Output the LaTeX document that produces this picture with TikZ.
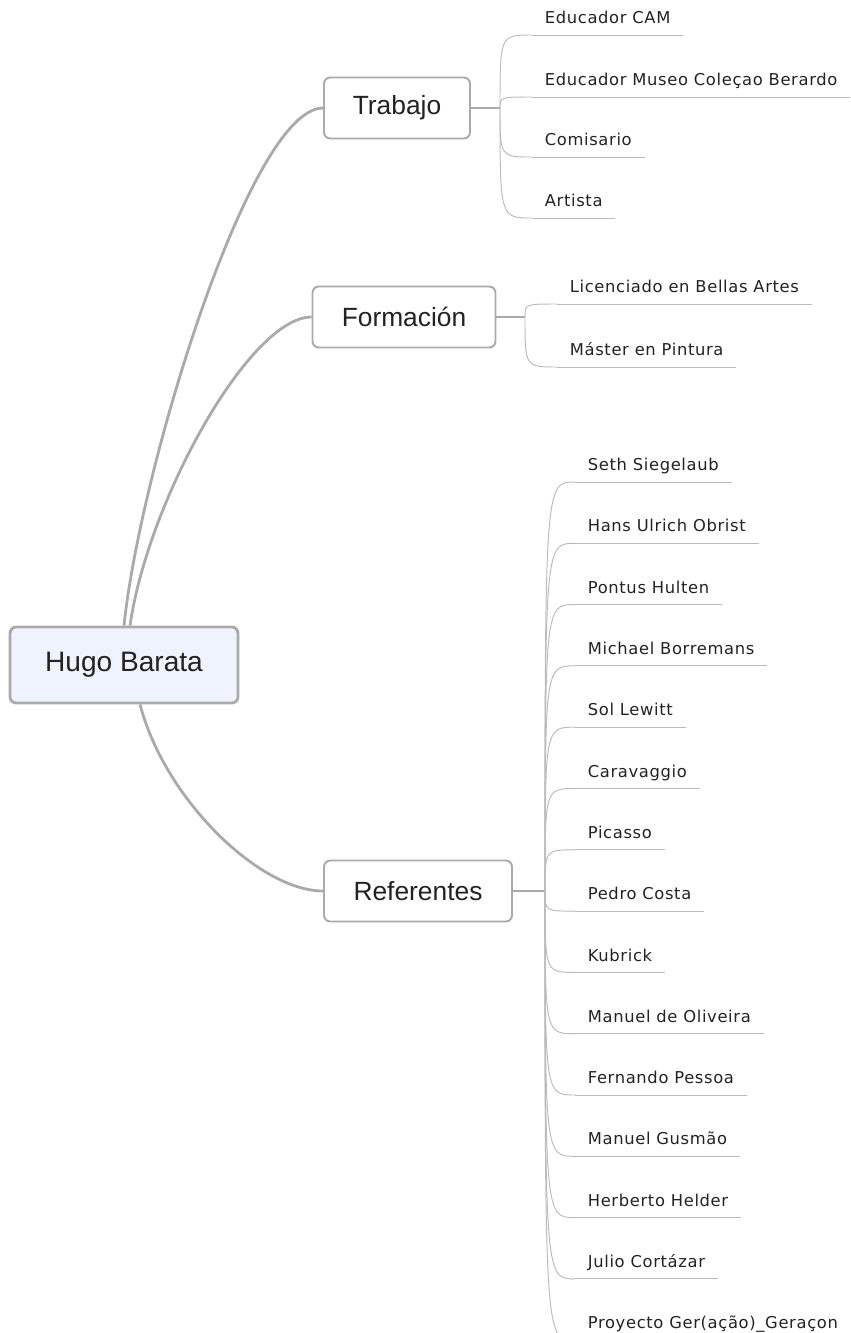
\documentclass[tikz,border=0pt]{standalone}
\usepackage{fontspec}
\setmainfont{Liberation Sans}
\newfontfamily\leaffont[LetterSpace=4]{DejaVu Sans}
\usepackage{tikz}
\usetikzlibrary{positioning,calc}
\usepackage{xcolor}
\definecolor{linegray}{HTML}{AAAAAA}
\definecolor{leafgray}{HTML}{BBBBBB}
\definecolor{rootfill}{HTML}{EFF3FD}
\definecolor{textgray}{HTML}{222222}

\tikzset{
  topic/.style={draw=linegray, line width=1.1pt, rounded corners=3.5pt, fill=white,
    minimum height=1.22cm, text=textgray, font=\fontsize{15}{18}\selectfont},
  leaf/.style={anchor=south west, inner xsep=0.25cm, inner ysep=0pt,
    text height=0.3cm, text depth=0.22cm, text=textgray,
    font=\leaffont\fontsize{9.3}{11}\selectfont},
  branch/.style={draw=linegray, line width=1.6pt},
  hubline/.style={draw=linegray, line width=0.8pt},
  leafline/.style={draw=leafgray, line width=0.55pt}
}

\begin{document}
\begin{tikzpicture}[x=0.02cm, y=-0.02cm]
    \useasboundingbox (0,0) rectangle (850,1333);

      % Central topic
      \node[topic, fill=rootfill, line width=1.6pt, minimum width=4.56cm, minimum height=1.52cm,
        font=\fontsize{16}{19}\selectfont] (root) at (124,665) {Hugo Barata};

      % Main topics
      \node[topic, minimum width=2.92cm] (trab) at (397,108) {Trabajo};
      \node[topic, minimum width=3.66cm] (form) at (404,317) {Formación};
      \node[topic, minimum width=3.76cm] (ref) at (418,891) {Referentes};

      % Branches
      \draw[branch] (root.north) .. controls (140,470) and (250,108) .. (trab.west);
      \draw[branch] ($(root.north)+(6,0)$) .. controls (148,500) and (250,317) .. (form.west);
      \draw[branch] ($(root.south)+(16,0)$) .. controls (165,800) and (260,891) .. (ref.west);

      % Hubs
      \coordinate (trabhub) at (500,108);
      \coordinate (formhub) at (525,317);
      \coordinate (refhub) at (545,891);
      \draw[hubline] (trab.east) -- (trabhub);
      \draw[hubline] (form.east) -- (formhub);
      \draw[hubline] (ref.east) -- (refhub);

      % Trabajo
      \node[leaf] (trab1) at (532,35) {Educador CAM};
      \node[leaf] (trab2) at (532,97) {Educador Museo Coleçao Berardo};
      \node[leaf] (trab3) at (532,157) {Comisario};
      \node[leaf] (trab4) at (532,218) {Artista};
      \foreach \i in {1, ..., 4} {
        \draw[leafline] (trab\i.south west) -- (trab\i.south east);
        \draw[leafline] (trabhub) .. controls (trabhub |- trab\i.south west) .. (trab\i.south west);
      }

      % Formacion
      \node[leaf] (form1) at (557,304) {Licenciado en Bellas Artes};
      \node[leaf] (form2) at (557,367) {Máster en Pintura};
      \foreach \i in {1, 2} {
        \draw[leafline] (form\i.south west) -- (form\i.south east);
        \draw[leafline] (formhub) .. controls (formhub |- form\i.south west) .. (form\i.south west);
      }

      % Referentes
      \foreach \name [count=\i from 0] in {Seth Siegelaub, Hans Ulrich Obrist, Pontus Hulten,
          Michael Borremans, Sol Lewitt, Caravaggio, Picasso, Pedro Costa, Kubrick,
          Manuel de Oliveira, Fernando Pessoa, Manuel Gusmão, Herberto Helder,
          Julio Cortázar, Proyecto Ger(ação)\_Geraçon} {
        \node[leaf] (ref\i) at (575, {482+61.3*\i}) {\name};
        \draw[leafline] (ref\i.south west) -- (ref\i.south east);
        \draw[leafline] (refhub) .. controls (refhub |- ref\i.south west) .. (ref\i.south west);
      }
  \end{tikzpicture}
\end{document}
